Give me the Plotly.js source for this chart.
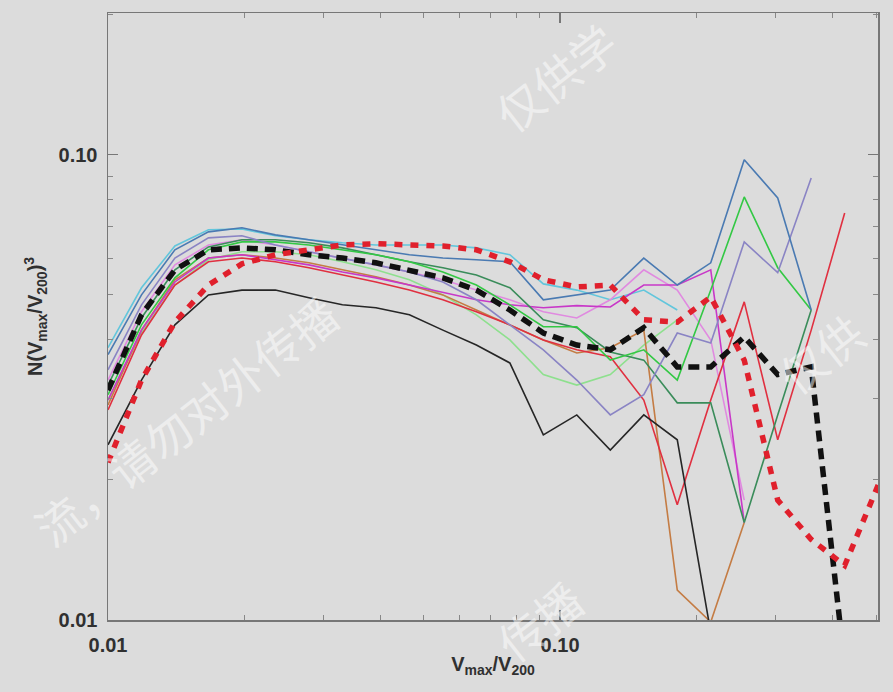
<!DOCTYPE html>
<html>
<head>
<meta charset="utf-8">
<script src="https://cdn.plot.ly/plotly-3.0.1.min.js"></script>
<style>
html,body{margin:0;padding:0;background:#dcdcdc;}
#chart{width:893px;height:692px;}
</style>
</head>
<body>
<div id="chart"></div>
<script>
// x: Vmax/V200 bin centres
const vRatio = [0.0100, 0.01186, 0.01406, 0.01668, 0.01978, 0.02346, 0.02782, 0.03300, 0.03914, 0.04642, 0.05505, 0.06529, 0.07743, 0.09183, 0.10890, 0.12916, 0.15318, 0.18166, 0.21544, 0.25551, 0.30302, 0.35937, 0.42620, 0.50545];

// y: N(Vmax/V200)^3 for each halo
const steelBlue = [0.0372, 0.0500, 0.0625, 0.0683, 0.0697, 0.0673, 0.0657, 0.0640, 0.0625, 0.0610, 0.0600, 0.0595, 0.0589, 0.0488, 0.0500, 0.0512, 0.0600, 0.0525, 0.0586, 0.0976, 0.0808, 0.0464];
const cyan = [0.0385, 0.0518, 0.0637, 0.0690, 0.0693, 0.0670, 0.0657, 0.0647, 0.0640, 0.0640, 0.0640, 0.0631, 0.0610, 0.0528, 0.0512, 0.0488, 0.0512, 0.0464];
const lavender = [0.0345, 0.0476, 0.0600, 0.0663, 0.0670, 0.0640, 0.0619, 0.0600, 0.0580, 0.0560, 0.0533, 0.0488, 0.0431, 0.0381, 0.0328, 0.0276, 0.0305, 0.0414, 0.0394, 0.0650, 0.0558, 0.0892];
const green = [0.0305, 0.0431, 0.0544, 0.0625, 0.0650, 0.0650, 0.0640, 0.0625, 0.0610, 0.0589, 0.0560, 0.0525, 0.0476, 0.0427, 0.0427, 0.0362, 0.0381, 0.0328, 0.0512, 0.0812, 0.0572, 0.0464];
const darkGreen = [0.0320, 0.0446, 0.0566, 0.0634, 0.0657, 0.0657, 0.0647, 0.0631, 0.0610, 0.0589, 0.0572, 0.0552, 0.0518, 0.0442, 0.0425, 0.0377, 0.0362, 0.0293, 0.0293, 0.0162, 0.0276, 0.0464];
const magenta = [0.0297, 0.0420, 0.0533, 0.0600, 0.0610, 0.0595, 0.0580, 0.0560, 0.0544, 0.0525, 0.0507, 0.0488, 0.0476, 0.0469, 0.0474, 0.0471, 0.0525, 0.0525, 0.0566, 0.0162];
const orchid = [0.0328, 0.0460, 0.0580, 0.0640, 0.0657, 0.0640, 0.0619, 0.0600, 0.0580, 0.0560, 0.0539, 0.0512, 0.0488, 0.0460, 0.0446, 0.0488, 0.0566, 0.0512, 0.0400, 0.0181];
const red = [0.0283, 0.0410, 0.0525, 0.0589, 0.0600, 0.0589, 0.0572, 0.0552, 0.0533, 0.0512, 0.0488, 0.0460, 0.0431, 0.0400, 0.0381, 0.0368, 0.0297, 0.0177, 0.0297, 0.0483, 0.0244, 0.0420, 0.0750];
const brown = [0.0290, 0.0420, 0.0539, 0.0600, 0.0610, 0.0600, 0.0586, 0.0566, 0.0547, 0.0525, 0.0500, 0.0464, 0.0431, 0.0400, 0.0375, 0.0385, 0.0420, 0.0116, 0.0099, 0.0162];
const lightGreen = [0.0297, 0.0414, 0.0525, 0.0595, 0.0619, 0.0619, 0.0610, 0.0589, 0.0566, 0.0539, 0.0500, 0.0453, 0.0400, 0.0337, 0.0320, 0.0337, 0.0390, 0.0442];
const black = [0.0238, 0.0328, 0.0431, 0.0500, 0.0512, 0.0512, 0.0493, 0.0476, 0.0469, 0.0453, 0.0420, 0.0390, 0.0357, 0.0250, 0.0276, 0.0232, 0.0276, 0.0244, 0.0094];
const blackMean = [0.0312, 0.0453, 0.0566, 0.0625, 0.0631, 0.0625, 0.0610, 0.0600, 0.0586, 0.0566, 0.0544, 0.0512, 0.0464, 0.0414, 0.0390, 0.0381, 0.0425, 0.0350, 0.0350, 0.0406, 0.0337, 0.0350, 0.0080];
const redMean = [0.0218, 0.0328, 0.0437, 0.0525, 0.0583, 0.0610, 0.0625, 0.0640, 0.0644, 0.0640, 0.0637, 0.0625, 0.0589, 0.0539, 0.0520, 0.0525, 0.0442, 0.0437, 0.0495, 0.0362, 0.0181, 0.0149, 0.0131, 0.0195];

const xTickVals = [0.01, 0.1];
const xTickText = ['0.01', '0.10'];
const yTickVals = [0.01, 0.1];
const yTickText = ['0.01', '0.10'];
const xMinor = [0.02,0.03,0.04,0.05,0.06,0.07,0.08,0.09,0.2,0.3,0.4,0.5];
const yMinor = [0.02,0.03,0.04,0.05,0.06,0.07,0.08,0.09,0.2];

function thin(y, color) {
  return {x: vRatio.slice(0, y.length), y: y, type: 'scatter', mode: 'lines',
    line: {color: color, width: 1.6}, hoverinfo: 'skip'};
}
const traces = [
  thin(lightGreen, '#8ee08e'),
  thin(cyan, '#62c6dc'),
  thin(orchid, '#e08ae0'),
  thin(brown, '#c47c44'),
  thin(magenta, '#c838c8'),
  thin(red, '#e03040'),
  thin(darkGreen, '#3a8c5a'),
  thin(green, '#33c844'),
  thin(lavender, '#8a84c4'),
  thin(steelBlue, '#4a7ab2'),
  thin(black, '#262626'),
  {x: vRatio.slice(0, blackMean.length), y: blackMean, type: 'scatter', mode: 'lines',
    line: {color: '#111111', width: 5.5, dash: '11px,7px'}, hoverinfo: 'skip'},
  {x: vRatio.slice(0, redMean.length), y: redMean, type: 'scatter', mode: 'lines',
    line: {color: '#e0202c', width: 5.5, dash: '8px,8px'}, hoverinfo: 'skip'}
];

const tickFont = {family: 'Liberation Sans, Arial, sans-serif', size: 20, color: '#303030', weight: 'bold'};
const wm = {family: 'Noto Sans CJK SC', size: 46, color: 'rgba(255,255,255,0.5)'};

const layout = {
  width: 893, height: 692,
  paper_bgcolor: '#dcdcdc', plot_bgcolor: '#dcdcdc',
  margin: {l: 108, r: 15, t: 13, b: 72},
  showlegend: false,
  xaxis: {
    type: 'log', range: [-2, -0.2967],
    tickmode: 'array', tickvals: xTickVals, ticktext: xTickText,
    ticks: 'inside', ticklen: 10, tickwidth: 1.2, tickcolor: '#777',
    minor: {tickmode: 'array', tickvals: xMinor, ticks: 'inside', ticklen: 5, tickcolor: '#888', tickwidth: 1},
    showline: true, linecolor: '#777', linewidth: 1.5, mirror: 'ticks',
    showgrid: false, zeroline: false,
    tickfont: tickFont, ticklabelstandoff: 6,
    title: {text: 'V<sub>max</sub>/V<sub>200</sub>', font: tickFont, standoff: 2}
  },
  yaxis: {
    type: 'log', range: [-2, -0.695],
    tickmode: 'array', tickvals: yTickVals, ticktext: yTickText,
    ticks: 'inside', ticklen: 10, tickwidth: 1.2, tickcolor: '#777',
    minor: {tickmode: 'array', tickvals: yMinor, ticks: 'inside', ticklen: 5, tickcolor: '#888', tickwidth: 1},
    showline: true, linecolor: '#777', linewidth: 1.5, mirror: 'ticks',
    showgrid: false, zeroline: false,
    tickfont: tickFont, ticklabelstandoff: 5,
    title: {text: 'N(V<sub>max</sub>/V<sub>200</sub>)<sup>3</sup>', font: tickFont, standoff: 10}
  },
  annotations: [
    {xref: 'paper', yref: 'paper', x: 0.1, y: 0.33, xanchor: 'center', yanchor: 'middle', text: '流，请勿对外传播', textangle: -38, showarrow: false, font: wm},
    {xref: 'paper', yref: 'paper', x: 0.58, y: 0.895, xanchor: 'center', yanchor: 'middle', text: '仅供学', textangle: -38, showarrow: false, font: wm},
    {xref: 'paper', yref: 'paper', x: 0.925, y: 0.44, xanchor: 'center', yanchor: 'middle', text: '仅供', textangle: -38, showarrow: false, font: wm},
    {xref: 'paper', yref: 'paper', x: 0.56, y: 0.0, xanchor: 'center', yanchor: 'middle', text: '传播', textangle: -38, showarrow: false, font: wm}
  ]
};

Plotly.newPlot('chart', traces, layout, {displayModeBar: false, staticPlot: true});
</script>
</body>
</html>
